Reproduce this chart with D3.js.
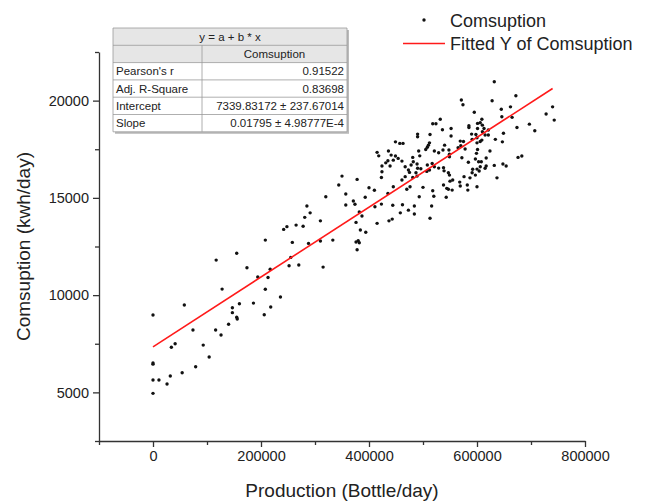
<!DOCTYPE html>
<html>
<head>
<meta charset="utf-8">
<script src="https://cdn.jsdelivr.net/npm/d3@7"></script>
<style>
  body { margin: 0; background: #fff; }
  text { font-family: "Liberation Sans", Arial, sans-serif; fill: #222; }
</style>
</head>
<body>
<svg id="chart"></svg>
<script>
const width = 651;
const height = 504;

// production (bottle/day)
const production = [
  0, 117000, 155000, 174000, 194000, 213000, 217000, 128000, 208000, 58000,
  147000, 147000, 160000, 186000, 155000, 156000, 140000, 206000, 218000, 236000,
  74000, 116000, 126000, 34000, 41000, 93000, 104000, 79000, 54000, 32000,
  0, 0, 0, 11000, 26000, 0, 208000,
  415000, 418000, 436000, 441000, 449000, 445000, 435000, 431000, 424000, 439000,
  449000, 424000, 423000, 350000, 344000, 378000, 400000, 410000, 445000, 435000,
  320000, 357000, 371000, 374000, 357000, 393000, 423000, 411000, 444000, 285000,
  291000, 281000, 310000, 382000, 387000, 376000, 415000, 437000, 443000, 458000,
  248000, 242000, 265000, 278000, 384000, 394000, 333000, 258000, 288000, 310000,
  376000, 380000, 382000, 378000, 255000, 252000, 270000, 315000,
  571000, 574000, 595000, 532000, 518000, 524000, 585000, 585000, 601000, 601000,
  536000, 552000, 490000, 490000, 513000, 552000, 590000, 598000, 457000, 463000,
  512000, 510000, 508000, 540000, 569000, 575000, 591000, 570000, 505000, 492000,
  521000, 529000, 537000, 548000, 565000, 578000, 601000, 599000, 454000, 461000,
  481000, 494000, 549000, 549000, 572000, 584000, 597000, 467000, 478000, 473000,
  482000, 489000, 490000, 496000, 508000, 517000, 521000, 529000, 538000, 539000,
  475000, 487000, 489000, 507000, 512000, 547000, 549000, 592000, 591000, 576000,
  587000, 467000, 461000, 481000, 470000, 476000, 538000, 544000, 547000, 550000,
  555000, 568000, 569000, 582000, 583000, 554000, 518000, 520000, 493000, 543000,
  462000, 484000, 516000, 473000, 484000, 513000, 500000,
  632000, 672000, 628000, 645000, 662000, 740000, 728000, 646000, 665000, 743000,
  609000, 606000, 610000, 697000, 674000, 707000, 613000, 621000, 649000, 600000,
  610000, 615000, 621000, 609000, 606000, 634000, 647000, 600000, 624000, 603000,
  608000, 617000, 683000, 676000, 632000, 648000, 654000, 606000, 617000, 615000,
  600000, 604000, 597000, 637000, 600000
];

// consumption (kwh/day)
const consumption = [
  8980, 11800, 12150, 11410, 10930, 10910, 11330, 10310, 10300, 9490,
  9350, 9100, 9560, 9590, 8860, 8770, 8500, 8990, 9390, 9900,
  8210, 8210, 7950, 7320, 7500, 7430, 6820, 6320, 6010, 5840,
  6510, 6450, 5640, 5640, 5430, 4950, 12830,
  17340, 17160, 17410, 17200, 17150, 16940, 16910, 16800, 16640, 16640,
  17880, 16340, 16050, 16120, 15660, 15950, 15520, 15390, 15570, 15230,
  15060, 15200, 14840, 14670, 14630, 15030, 14680, 14540, 14620, 14580,
  14230, 14000, 13820, 14270, 14070, 13740, 13690, 13820, 13910, 14230,
  13520, 13380, 13600, 13540, 13350, 13230, 12830, 12710, 12660, 12780,
  12730, 12800, 12690, 12330, 11940, 11510, 11550, 11440,
  20030, 19790, 19400, 19040, 18810, 18810, 18710, 18620, 18830, 18570,
  18500, 18570, 18280, 18140, 18260, 18180, 18280, 18260, 17800, 17800,
  17830, 17710, 17600, 17710, 17920, 17900, 18010, 17680, 17490, 17410,
  17410, 17320, 17460, 17460, 17580, 17510, 17490, 17290, 17030, 16890,
  17080, 17160, 17240, 17110, 17060, 16830, 17000, 16600, 16690, 16430,
  16860, 16740, 16520, 16500, 16690, 16770, 16600, 16530, 16550, 16390,
  16310, 16290, 16120, 16360, 16430, 16290, 16170, 16470, 16290, 16090,
  16030, 16090, 15920, 16050, 15440, 15570, 15660, 15490, 15440, 15860,
  15920, 15810, 15610, 15660, 15400, 15400, 15370, 15080, 15060, 15030,
  14650, 14580, 14580, 14370, 14170, 13950, 15540,
  20970, 20250, 19990, 19560, 19680, 19680, 19310, 19170, 19140, 19000,
  19040, 18860, 18740, 18790, 18620, 18450, 18570, 18490, 18320, 18090,
  18400, 18230, 18230, 17970, 17900, 18010, 17880, 17830, 17410, 16860,
  16860, 17050, 17150, 17080, 16670, 16740, 16640, 16600, 16640, 16520,
  16480, 16380, 16170, 16030, 15570
];

// linear fit results
const intercept = 7339.83172;
const slope = 0.01795;
const fitRange = [0, 740000];

const statRows = [
  ["Pearson's r", "0.91522"],
  ["Adj. R-Square", "0.83698"],
  ["Intercept", "7339.83172 \u00b1 237.67014"],
  ["Slope", "0.01795 \u00b1 4.98777E-4"]
];

const xMajor = [0, 200000, 400000, 600000, 800000];
const xMinor = [-100000, 100000, 300000, 500000, 700000];
const yMajor = [5000, 10000, 15000, 20000];
const yMinor = [2500, 7500, 12500, 17500, 22500];

const svg = d3.select('#chart')
    .attr('width', width)
    .attr('height', height);

svg.append('rect')
    .attr('width', width)
    .attr('height', height)
    .attr('fill', '#fff');

const x = d3.scaleLinear().domain([-100000, 800000]).range([99, 585]);
const y = d3.scaleLinear().domain([2500, 22500]).range([441, 52]);

// axes: major ticks with labels, then minor ticks
svg.append('g')
    .attr('transform', `translate(0,${y(2500)})`)
    .call(d3.axisBottom(x).tickValues(xMajor).tickSize(6).tickSizeOuter(0)
        .tickPadding(4).tickFormat(d3.format('d')));
svg.append('g')
    .attr('transform', `translate(0,${y(2500)})`)
    .call(d3.axisBottom(x).tickValues(xMinor).tickSize(4).tickSizeOuter(0).tickFormat(''))
    .select('.domain').remove();

svg.append('g')
    .attr('transform', `translate(${x(-100000)},0)`)
    .call(d3.axisLeft(y).tickValues(yMajor).tickSize(6).tickSizeOuter(0)
        .tickPadding(4).tickFormat(d3.format('d')));
svg.append('g')
    .attr('transform', `translate(${x(-100000)},0)`)
    .call(d3.axisLeft(y).tickValues(yMinor).tickSize(4).tickSizeOuter(0).tickFormat(''))
    .select('.domain').remove();

svg.selectAll('.domain, .tick line')
    .attr('stroke', '#333')
    .attr('stroke-width', 1.3);
svg.selectAll('.tick text')
    .attr('font-size', 14.5)
    .attr('fill', '#333')
    .style('font-family', '"Liberation Sans", Arial, sans-serif');

// axis titles
svg.append('text')
    .attr('x', (x(-100000) + x(800000)) / 2)
    .attr('y', 497)
    .attr('text-anchor', 'middle')
    .attr('font-size', 19)
    .text('Production (Bottle/day)');

svg.append('text')
    .attr('transform', `translate(30,${(y(2500) + y(22500)) / 2}) rotate(-90)`)
    .attr('text-anchor', 'middle')
    .attr('font-size', 19)
    .text('Comsuption (kwh/day)');

// scatter points
const points = production.map((p, i) => ({ p: p, c: consumption[i] }));
svg.append('g')
    .selectAll('circle')
    .data(points)
    .enter().append('circle')
    .attr('cx', d => x(d.p))
    .attr('cy', d => y(d.c))
    .attr('r', 1.7)
    .attr('fill', '#111');

// fitted line
svg.append('line')
    .attr('x1', x(fitRange[0]))
    .attr('y1', y(intercept + slope * fitRange[0]))
    .attr('x2', x(fitRange[1]))
    .attr('y2', y(intercept + slope * fitRange[1]))
    .attr('stroke', '#ff1a1a')
    .attr('stroke-width', 1.6);

// legend
const legend = svg.append('g');
legend.append('circle')
    .attr('cx', 424).attr('cy', 20).attr('r', 1.7).attr('fill', '#111');
legend.append('text')
    .attr('x', 450).attr('y', 27).attr('font-size', 18)
    .text('Comsuption');
legend.append('line')
    .attr('x1', 403).attr('x2', 445).attr('y1', 43.5).attr('y2', 43.5)
    .attr('stroke', '#ff1a1a').attr('stroke-width', 1.6);
legend.append('text')
    .attr('x', 450).attr('y', 50).attr('font-size', 18)
    .text('Fitted Y of Comsuption');

// stats table
const tx = 113, ty = 28, tw = 234, rh = 17.3, c1 = 89;
const table = svg.append('g');
table.append('rect')
    .attr('x', tx + 2).attr('y', ty + 2)
    .attr('width', tw).attr('height', rh * 6)
    .attr('fill', '#bbb');
table.append('rect')
    .attr('x', tx).attr('y', ty)
    .attr('width', tw).attr('height', rh * 6)
    .attr('fill', '#fff');
table.append('rect')
    .attr('x', tx).attr('y', ty)
    .attr('width', tw).attr('height', rh * 2)
    .attr('fill', '#e6e6e6');

const borderColor = '#9a9a9a';
for (let r = 0; r <= 6; r++) {
    table.append('line')
        .attr('x1', tx).attr('x2', tx + tw)
        .attr('y1', ty + r * rh).attr('y2', ty + r * rh)
        .attr('stroke', borderColor).attr('stroke-width', 0.8);
}
table.append('line')
    .attr('x1', tx).attr('x2', tx).attr('y1', ty).attr('y2', ty + 6 * rh)
    .attr('stroke', borderColor).attr('stroke-width', 0.8);
table.append('line')
    .attr('x1', tx + tw).attr('x2', tx + tw).attr('y1', ty).attr('y2', ty + 6 * rh)
    .attr('stroke', borderColor).attr('stroke-width', 0.8);
table.append('line')
    .attr('x1', tx + c1).attr('x2', tx + c1).attr('y1', ty + rh).attr('y2', ty + 6 * rh)
    .attr('stroke', borderColor).attr('stroke-width', 0.8);

table.append('text')
    .attr('x', tx + tw / 2).attr('y', ty + rh - 4.5)
    .attr('text-anchor', 'middle').attr('font-size', 11.5)
    .text('y = a + b * x');
table.append('text')
    .attr('x', tx + c1 + (tw - c1) / 2).attr('y', ty + 2 * rh - 4.5)
    .attr('text-anchor', 'middle').attr('font-size', 11.5)
    .text('Comsuption');

table.selectAll('.rowlabel')
    .data(statRows)
    .enter().append('text')
    .attr('x', tx + 3)
    .attr('y', (d, i) => ty + (i + 3) * rh - 4.5)
    .attr('font-size', 11.5)
    .text(d => d[0]);
table.selectAll('.rowvalue')
    .data(statRows)
    .enter().append('text')
    .attr('x', tx + tw - 3)
    .attr('y', (d, i) => ty + (i + 3) * rh - 4.5)
    .attr('text-anchor', 'end')
    .attr('font-size', 11.5)
    .text(d => d[1]);
</script>
</body>
</html>
